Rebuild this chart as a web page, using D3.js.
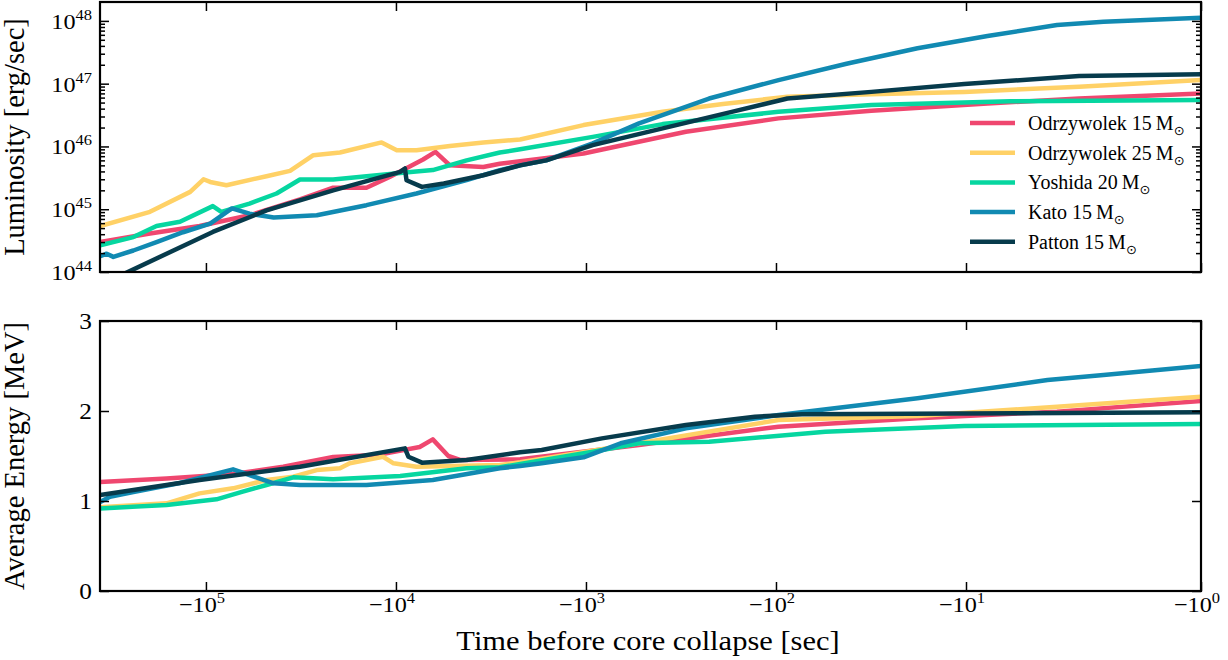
<!DOCTYPE html>
<html>
<head>
<meta charset="utf-8">
<script src="https://cdnjs.cloudflare.com/ajax/libs/d3/7.8.5/d3.min.js"></script>
<style>
  body { margin: 0; background: #fff; }
  svg { display: block; }
  text { font-family: "Liberation Serif", "Times New Roman", serif; fill: #000; }
</style>
</head>
<body>
<svg id="chart" width="1228" height="660"></svg>
<script>
// [time before collapse (s), luminosity (erg/s)]
var odr15Lum = [[-3.6e5,3.0e44],[-1.97e5,4.1e44],[-1.08e5,5.4e44],[-5.9e4,8.0e44],[-3.2e4,1.43e45],[-2.14e4,2.2e45],
  [-1.43e4,2.2e45],[-1.08e4,3.27e45],[-7.2e3,6.2e45],[-6.2e3,8.2e45],[-5.2e3,5.0e45],[-3.47e3,4.7e45],[-2.84e3,5.3e45],
  [-2.22e3,5.8e45],[-1.03e3,7.7e45],[-298,1.71e46],[-97,2.8e46],[-31.5,3.7e46],[-8.1,4.85e46],[-3.3,5.8e46],[-1,7.0e46]];
var odr25Lum = [[-3.6e5,5.4e44],[-1.97e5,9.1e44],[-1.21e5,1.89e45],[-1.03e5,3.0e45],[-9.5e4,2.72e45],[-7.8e4,2.41e45],
  [-4.8e4,3.36e45],[-3.61e4,4.08e45],[-2.72e4,7.26e45],[-1.97e4,8.0e45],[-1.19e4,1.16e46],[-9.9e3,8.7e45],[-7.8e3,8.7e45],
  [-5.2e3,1.02e46],[-3.47e3,1.16e46],[-2.22e3,1.29e46],[-1.03e3,2.19e46],[-395,3.56e46],[-190,4.73e46],[-87,6.2e46],
  [-31.5,6.8e46],[-10.2,7.4e46],[-3.3,8.9e46],[-1,1.14e47]];
var yos20Lum = [[-3.6e5,2.67e44],[-2.41e5,3.6e44],[-1.82e5,5.4e44],[-1.37e5,6.3e44],[-9.2e4,1.12e45],[-8.3e4,9.1e44],
  [-5.9e4,1.23e45],[-4.25e4,1.78e45],[-3.2e4,2.98e45],[-2.14e4,2.98e45],[-1.26e4,3.48e45],[-8.1e3,3.94e45],[-6.4e3,4.2e45],
  [-4.25e3,6.0e45],[-2.84e3,8.0e45],[-2.22e3,9.0e45],[-921,1.42e46],[-395,2.27e46],[-97,3.56e46],[-31.5,4.56e46],
  [-6.5,5.26e46],[-1,5.5e46]];
var kato15Lum = [[-3.6e5,1.78e44],[-3.33e5,1.96e44],[-3.07e5,1.74e44],[-2.41e5,2.2e44],[-1.82e5,3.0e44],[-1.32e5,4.3e44],
  [-9.5e4,5.9e44],[-7.3e4,1.03e45],[-5.9e4,8.5e44],[-4.4e4,7.4e44],[-2.61e4,8.0e44],[-1.43e4,1.16e45],[-7.8e3,1.78e45],
  [-4.25e3,2.9e45],[-2.84e3,4.2e45],[-2.22e3,5.0e45],[-1.62e3,6.0e45],[-921,1.12e46],[-526,2.33e46],[-225,5.8e46],
  [-97,1.14e47],[-42,2.1e47],[-18,3.66e47],[-8.1,5.75e47],[-4.1,8.6e47],[-2.6,9.7e47],[-1,1.12e48]];
var patt15Lum = [[-3.6e5,6.2e43],[-9.2e4,4.35e44],[-4.8e4,9.6e44],[-2.14e4,2.0e45],[-9.5e3,3.94e45],[-8.97e3,4.46e45],
  [-8.8e3,2.9e45],[-7.3e3,2.27e45],[-5.6e3,2.57e45],[-3.47e3,3.48e45],[-2.22e3,5.0e45],[-1.62e3,6.0e45],[-921,1.05e46],
  [-395,1.94e46],[-171,3.56e46],[-87,5.8e46],[-31.5,7.4e46],[-10.2,9.9e46],[-3.3,1.32e47],[-1,1.41e47]];

// [time before collapse (s), average energy (MeV)]
var odr15En = [[-3.6e5,1.21],[-1.61e5,1.25],[-7.2e4,1.30],[-3.92e4,1.38],[-2.14e4,1.49],[-1.68e4,1.50],[-1.26e4,1.51],
  [-7.5e3,1.60],[-6.4e3,1.685],[-5.3e3,1.50],[-4.6e3,1.456],[-2.22e3,1.463],[-526,1.622],[-97,1.826],[-18,1.919],
  [-4.1,1.993],[-1,2.11]];
var odr25En = [[-3.6e5,0.93],[-1.61e5,0.974],[-1.32e5,1.03],[-1.08e5,1.085],[-7.2e4,1.141],[-4.8e4,1.233],[-3.47e4,1.27],
  [-2.61e4,1.344],[-1.97e4,1.363],[-1.75e4,1.419],[-1.17e4,1.492],[-1.03e4,1.419],[-7.8e3,1.381],[-2.84e3,1.40],
  [-2.22e3,1.43],[-526,1.641],[-97,1.90],[-18,1.944],[-4.1,2.048],[-1,2.159]];
var yos20En = [[-3.6e5,0.918],[-1.61e5,0.956],[-8.8e4,1.019],[-6.4e4,1.104],[-4.8e4,1.178],[-3.47e4,1.263],[-2.14e4,1.241],
  [-9.5e3,1.278],[-4.25e3,1.363],[-2.84e3,1.374],[-921,1.548],[-526,1.641],[-225,1.659],[-55,1.77],[-10.2,1.833],[-1,1.856]];
var kato15En = [[-3.6e5,0.99],[-3.2e5,1.048],[-2.41e5,1.10],[-1.37e5,1.20],[-7.2e4,1.352],[-4.4e4,1.196],[-3.2e4,1.178],
  [-1.43e4,1.178],[-6.4e3,1.233],[-2.84e3,1.363],[-2.22e3,1.39],[-1.71e3,1.419],[-1.03e3,1.485],[-657,1.641],[-298,1.807],
  [-97,1.955],[-18,2.141],[-4.5,2.344],[-2.6,2.40],[-1,2.5]];
var patt15En = [[-3.6e5,1.067],[-1.08e5,1.233],[-3.2e4,1.381],[-8.97e3,1.585],[-8.6e3,1.492],[-7.3e3,1.426],[-4.25e3,1.456],
  [-2.22e3,1.541],[-1.71e3,1.567],[-824,1.696],[-298,1.844],[-129,1.937],[-73,1.963],[-1,1.985]];

var names   = ['Odrzywolek 15', 'Odrzywolek 25', 'Yoshida 20', 'Kato 15', 'Patton 15'];
var colors  = ['#ef476f', '#ffd166', '#06d6a0', '#118ab2', '#073b4c'];
var lumSets = [odr15Lum, odr25Lum, yos20Lum, kato15Lum, patt15Lum];
var enSets  = [odr15En, odr25En, yos20En, kato15En, patt15En];

var xTicks   = [1e5, 1e4, 1e3, 1e2, 1e1, 1e0];
var lumTicks = [1e44, 1e45, 1e46, 1e47, 1e48];
var enTicks  = [0, 1, 2, 3];

var svg = d3.select('#chart');
var left = 100, right = 1201;
var lumTop = 2, lumBottom = 272, enTop = 321, enBottom = 591;
var stretch = 'scale(1.1,1)';

// time axis: log in |t|, last decade a bit wider (linear part near zero)
var x = d3.scaleLog().domain([3.61e5, 10, 1]).range([left, 966, right]);
var yLum = d3.scaleLog().domain([1e44, 2e48]).range([lumBottom, lumTop]);
var yEn = d3.scaleLinear().domain([0, 3]).range([enBottom, enTop]);

var lumMinor = [];
d3.range(44, 49).forEach(function(d){
	for (var k = 2; k < 10; k++) {
		var v = k * Math.pow(10, d);
		if (v < 2e48) lumMinor.push(v);
	}
});

var defs = svg.append('defs');
defs.append('clipPath').attr('id', 'clipLum').append('rect')
	.attr('x', left).attr('y', lumTop).attr('width', right - left).attr('height', lumBottom - lumTop);
defs.append('clipPath').attr('id', 'clipEn').append('rect')
	.attr('x', left).attr('y', enTop).attr('width', right - left).attr('height', enBottom - enTop);

function tickAxis(axis, tx, ty, size) {
	var g = svg.append('g').attr('transform', 'translate(' + tx + ',' + ty + ')')
		.call(axis.tickSize(size).tickSizeOuter(0).tickFormat(''));
	g.select('.domain').remove();
	g.selectAll('.tick line').attr('stroke', '#000').attr('stroke-width', 1.5);
	return g;
}

function powLabel(px, py, prefix, exp, anchor) {
	var t = svg.append('text')
		.attr('transform', 'translate(' + px + ',' + py + ') ' + stretch)
		.attr('text-anchor', anchor)
		.style('font-size', '22px');
	t.append('tspan').text(prefix + '10');
	t.append('tspan').attr('dy', -9).style('font-size', '15px').text(exp);
}

function drawPanel(y, sets, clipId, top, bottom) {
	var line = d3.line()
		.x(function(d){ return x(-d[0]); })
		.y(function(d){ return y(d[1]); });

	svg.append('g').attr('clip-path', 'url(#' + clipId + ')')
		.selectAll('path').data(sets).enter().append('path')
		.attr('d', line)
		.attr('fill', 'none')
		.attr('stroke', function(d, i){ return colors[i]; })
		.attr('stroke-width', 4.5)
		.attr('stroke-linejoin', 'round')
		.attr('stroke-linecap', 'butt');

	// x ticks, inside, top and bottom
	tickAxis(d3.axisBottom(x).tickValues(xTicks), 0, bottom, -9);
	tickAxis(d3.axisTop(x).tickValues(xTicks), 0, top, -9);

	svg.append('rect')
		.attr('x', left).attr('y', top)
		.attr('width', right - left).attr('height', bottom - top)
		.attr('fill', 'none').attr('stroke', '#000').attr('stroke-width', 2.2);
}

// --- luminosity panel
drawPanel(yLum, lumSets, 'clipLum', lumTop, lumBottom);
tickAxis(d3.axisLeft(yLum).tickValues(lumTicks), left, 0, -9);
tickAxis(d3.axisRight(yLum).tickValues(lumTicks), right, 0, -9);
tickAxis(d3.axisLeft(yLum).tickValues(lumMinor), left, 0, -5);
tickAxis(d3.axisRight(yLum).tickValues(lumMinor), right, 0, -5);

lumTicks.forEach(function(v){
	powLabel(92, yLum(v) + 8, '', String(Math.round(Math.log10(v))), 'end');
});

svg.append('text')
	.attr('transform', 'translate(24,' + ((lumTop + lumBottom) / 2) + ') rotate(-90)')
	.attr('text-anchor', 'middle')
	.style('font-size', '28.5px')
	.text('Luminosity [erg/sec]');

// legend
var legend = svg.append('g');
names.forEach(function(n, i){
	var ly = 123 + i * 29.7;
	legend.append('line')
		.attr('x1', 970).attr('x2', 1015).attr('y1', ly).attr('y2', ly)
		.attr('stroke', colors[i]).attr('stroke-width', 4.5);
	var t = legend.append('text')
		.attr('transform', 'translate(1028,' + (ly + 7) + ')')
		.style('font-size', '20px');
	t.append('tspan').text(n + '\u2009M');
	t.append('tspan').attr('dy', 5).style('font-size', '13px')
		.style('font-family', '"DejaVu Sans", sans-serif').text('\u2299');
});

// --- energy panel
drawPanel(yEn, enSets, 'clipEn', enTop, enBottom);
tickAxis(d3.axisLeft(yEn).tickValues(enTicks), left, 0, -9);
tickAxis(d3.axisRight(yEn).tickValues(enTicks), right, 0, -9);

enTicks.forEach(function(v){
	svg.append('text')
		.attr('transform', 'translate(92,' + (yEn(v) + 8) + ') ' + stretch)
		.attr('text-anchor', 'end')
		.style('font-size', '23px')
		.text(v);
});

svg.append('text')
	.attr('transform', 'translate(24,' + ((enTop + enBottom) / 2) + ') rotate(-90)')
	.attr('text-anchor', 'middle')
	.style('font-size', '28.5px')
	.text('Average Energy [MeV]');

// x tick labels + title
xTicks.forEach(function(v){
	powLabel(x(v) - 4, 612, '\u2212', String(Math.round(Math.log10(v))), 'middle');
});

svg.append('text')
	.attr('transform', 'translate(648,650) scale(1.13,1)')
	.attr('text-anchor', 'middle')
	.style('font-size', '27px')
	.text('Time before core collapse [sec]');
</script>
</body>
</html>
